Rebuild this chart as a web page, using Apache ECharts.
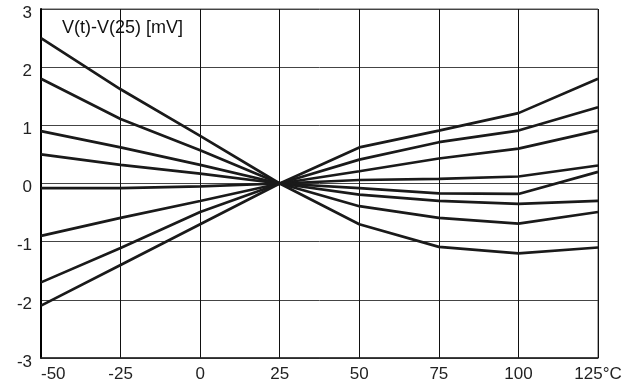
<!DOCTYPE html>
<html>
<head>
<meta charset="utf-8">
<script src="https://cdn.jsdelivr.net/npm/echarts@6/dist/echarts.min.js"></script>
<style>
html,body{margin:0;padding:0;background:#fff;}
#chart{width:632px;height:383px;}
</style>
</head>
<body>
<div id="chart"></div>
<script>
// Temperatures (°C)
const temps = [-50, -25, 0, 25, 50, 75, 100, 125];
// V(t)-V(25) [mV] curves
const curve1 = [2.5, 1.62, 0.82, 0, -0.70, -1.09, -1.20, -1.10];
const curve2 = [1.8, 1.11, 0.57, 0, -0.39, -0.59, -0.69, -0.49];
const curve3 = [0.9, 0.62, 0.32, 0, -0.19, -0.30, -0.35, -0.30];
const curve4 = [0.5, 0.32, 0.17, 0, -0.08, -0.17, -0.18, 0.20];
const curve5 = [-0.08, -0.08, -0.05, 0, 0.06, 0.08, 0.12, 0.31];
const curve6 = [-0.9, -0.59, -0.30, 0, 0.21, 0.43, 0.60, 0.91];
const curve7 = [-1.7, -1.11, -0.49, 0, 0.41, 0.71, 0.91, 1.31];
const curve8 = [-2.1, -1.40, -0.70, 0, 0.62, 0.91, 1.21, 1.80];
const curves = [curve1, curve2, curve3, curve4, curve5, curve6, curve7, curve8];
const yTicks = [-3, -2, -1, 0, 1, 2, 3];
const titleText = 'V(t)-V(25) [mV]';

const chart = echarts.init(document.getElementById('chart'), null, {renderer: 'canvas'});
const font = 'Liberation Sans, Arial, sans-serif';
chart.setOption({
  animation: false,
  backgroundColor: '#fff',
  title: {
    text: titleText,
    left: 57, top: 14,
    textStyle: {fontFamily: font, fontSize: 18, fontWeight: 'normal', color: '#111'}
  },
  grid: {
    left: 41, right: 34, top: 9, bottom: 25,
    show: true, borderColor: '#555', borderWidth: 1, backgroundColor: 'transparent'
  },
  xAxis: {
    type: 'value', min: -50, max: 125, interval: 25,
    axisLine: {show: true, onZero: false, lineStyle: {color: '#222', width: 1.5}},
    axisTick: {show: false},
    splitLine: {show: true, lineStyle: {color: '#111', width: 1}},
    axisLabel: {
      fontFamily: font, fontSize: 17, color: '#222', margin: 8,
      alignMinLabel: 'left',
      formatter: v => v === 125 ? '125°C' : String(v)
    }
  },
  yAxis: {
    type: 'value', min: yTicks[0], max: yTicks[yTicks.length - 1], interval: 1,
    axisLine: {show: true, onZero: false, lineStyle: {color: '#000', width: 2}},
    axisTick: {show: false},
    splitLine: {show: true, lineStyle: {color: '#444', width: 1}},
    axisLabel: {
      fontFamily: font, fontSize: 17, color: '#222', margin: 9,
      verticalAlign: 'top', lineHeight: 8
    }
  },
  series: curves.map(c => ({
    type: 'line',
    data: temps.map((t, i) => [t, c[i]]),
    symbol: 'none',
    lineStyle: {color: '#1a1a1a', width: 2.7},
    z: 3
  }))
});
</script>
</body>
</html>
